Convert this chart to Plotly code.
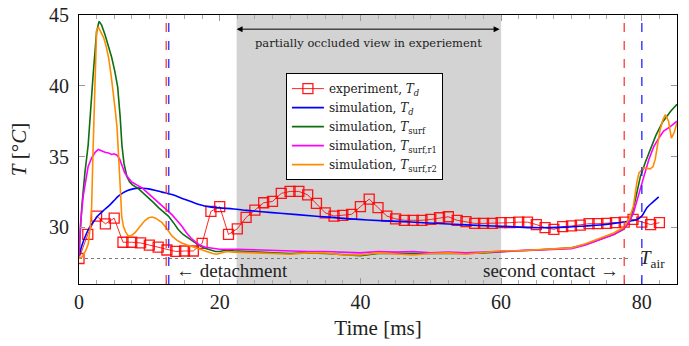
import plotly.graph_objects as go

# ---------------- data ----------------
exp_step = 1.25
exp_T = [27.8, 29.5, 30.8, 30.25, 30.65, 28.95, 28.95, 28.9, 28.75, 28.6,
         28.4, 28.3, 28.33, 28.33, 28.87, 31.13, 31.46, 29.5, 29.9, 30.7,
         31.22, 31.74, 31.83, 32.4, 32.54, 32.54, 32.3, 31.7, 31.03, 30.8,
         30.85, 30.92, 31.46, 32.0, 31.4, 30.8, 30.6, 30.5, 30.5, 30.5,
         30.56, 30.68, 30.75, 30.5, 30.4, 30.28, 30.28, 30.28, 30.33, 30.33,
         30.37, 30.37, 30.2, 29.98, 29.86, 30.05, 30.1, 30.16, 30.26, 30.26,
         30.28, 30.33, 30.37, 30.56, 30.37, 30.2, 30.33]
exp_t = [i * exp_step for i in range(len(exp_T))]

sim_d_t = [0, 0.4, 1.0, 1.56, 2.2, 2.75, 3.5, 4.2, 4.9, 5.6, 6.3, 7.0, 7.7, 8.4, 9.1,
           9.86, 10.8, 11.8, 12.7, 13.65, 14.4, 15.8, 17.2, 18.6, 20, 22, 23.85, 26,
           28.6, 31, 33.3, 35.5, 38.5, 41, 45.2, 49, 53.2, 57, 61.3, 64.6, 67, 69.4,
           72, 74.1, 76, 77.9, 79.3, 80.0, 80.75, 81.6, 82.4]
sim_d_T = [28.0, 28.7, 29.5, 30.05, 30.5, 30.85, 31.2, 31.5, 31.85, 32.2, 32.45,
           32.63, 32.72, 32.77, 32.76, 32.72, 32.62, 32.49, 32.38, 32.25, 32.1,
           31.85, 31.6, 31.45, 31.38, 31.3, 31.2, 31.1, 31.0, 30.9, 30.8, 30.72,
           30.6, 30.52, 30.42, 30.33, 30.22, 30.13, 30.05, 29.98, 29.98, 30.02,
           30.1, 30.17, 30.28, 30.42, 30.55, 30.8, 31.4, 31.8, 32.16]

surf_t = [0, 0.4, 0.85, 1.3, 2.0, 2.5, 2.85, 3.2, 3.7, 4.2, 4.65, 5.1, 5.5, 5.85,
          6.1, 6.4, 6.8, 7.2, 7.6, 8.4, 9.2, 9.9, 10.6, 11.3, 12.0, 12.7, 13.4,
          14.1, 14.8, 15.5, 16.2, 17.0, 17.8, 18.6, 19.4, 20.0, 21.0, 22.0, 23.5,
          25, 27.5, 30, 32.5, 35, 37.5, 40, 42.5, 45, 47.5, 50, 52.5, 55, 57.5,
          60, 62.5, 65, 67.5, 70, 72, 74, 76, 77.4, 78.4, 79.1, 79.8, 80.5, 81.2,
          82.0, 82.9, 84.1, 85]
surf_T = [28.0, 31.5, 33.9, 35.8, 40.7, 43.8, 44.55, 44.3, 43.6, 42.8, 42.0, 41.0,
          39.9, 37.8, 35.8, 34.5, 33.6, 33.2, 33.0, 32.75, 32.4, 32.1, 31.75,
          31.4, 31.1, 30.8, 30.35, 29.85, 29.5, 29.25, 29.0, 28.75, 28.55, 28.4,
          28.3, 28.3, 28.4, 28.35, 28.3, 28.25, 28.2, 28.15, 28.2, 28.15, 28.1,
          28.0, 28.15, 28.15, 28.1, 28.15, 28.1, 28.15, 28.2, 28.3, 28.35, 28.4,
          28.45, 28.55, 28.8, 29.15, 29.5, 29.85, 30.5, 32.0, 33.6, 34.6, 35.5,
          36.5, 37.4, 38.2, 38.7]

r1_t = [0, 0.2, 0.6, 1.0, 1.3, 1.8, 2.3, 2.75, 3.2, 3.7, 4.2, 4.65, 5.0, 5.4, 5.8,
        6.2, 6.5, 7.0, 7.5, 8.2, 8.9, 9.6, 10.3, 11.0, 11.8, 12.5, 13.2, 13.9,
        14.6, 15.3, 16.0, 16.6, 17.2, 18.0, 19.1, 20, 22.5, 25, 27.5, 30, 32.5,
        35, 37.5, 40, 42.5, 45, 47.5, 50, 52.5, 55, 57.5, 60, 62.5, 65, 67.5, 70,
        72, 74, 76, 77.4, 78.1, 78.8, 79.5, 80.3, 81.0, 81.7, 82.4, 83.1, 84.0, 85]
r1_T = [28.0, 30.2, 32.2, 33.6, 34.3, 34.9, 35.3, 35.5, 35.4, 35.3, 35.25, 35.15,
        35.2, 35.1, 34.8, 34.2, 33.85, 33.5, 33.2, 33.0, 32.8, 32.5, 32.2, 31.85,
        31.5, 31.2, 30.9, 30.5, 30.1, 29.6, 29.2, 28.95, 28.73, 28.6, 28.5, 28.45,
        28.45, 28.4, 28.35, 28.3, 28.3, 28.3, 28.25, 28.2, 28.3, 28.25, 28.3, 28.2,
        28.25, 28.2, 28.25, 28.3, 28.3, 28.35, 28.4, 28.5, 28.75, 29.1, 29.5,
        29.9, 30.3, 31.0, 32.3, 33.6, 34.8, 35.7, 36.3, 36.8, 37.1, 37.5]

r2_t = [0, 0.4, 0.9, 1.3, 1.6, 1.8, 2.0, 2.25, 2.5, 2.75, 3.1, 3.5, 3.85, 4.2, 4.55,
        4.9, 5.15, 5.4, 5.6, 5.75, 5.9, 6.07, 6.3, 6.6, 7.0, 7.4, 8.0, 8.5, 8.9,
        9.4, 9.9, 10.4, 10.9, 11.4, 11.8, 12.5, 13.2, 13.9, 14.6, 15.4, 16.3,
        17.2, 18.2, 19.0, 19.6, 20.3, 21.0, 22, 23.5, 25, 27.5, 30, 32.5, 35, 37.5,
        40, 42.5, 45, 47.5, 50, 52.5, 55, 57.5, 60, 62.5, 65, 67.5, 70, 72, 74, 76,
        77.4, 78.2, 78.8, 79.3, 79.6, 80.3, 81.2, 81.6, 81.9, 82.3, 82.6, 83.0,
        83.35, 83.8, 84.2, 84.6, 85]
r2_T = [27.8, 27.9, 28.3, 28.8, 30.0, 31.5, 35.5, 40.5, 43.9, 44.15, 43.8, 43.4,
        42.8, 42.0, 40.8, 39.5, 38.3, 37.1, 35.5, 34.0, 32.5, 30.8, 30.1, 29.7,
        29.4, 29.4, 29.65, 29.95, 30.2, 30.5, 30.68, 30.73, 30.65, 30.5, 30.33,
        29.9, 29.4, 29.1, 28.9, 28.75, 28.6, 28.45, 28.26, 28.15, 28.1, 28.2,
        28.3, 28.25, 28.25, 28.2, 28.15, 28.1, 28.2, 28.2, 28.05, 28.05, 28.2,
        28.15, 28.05, 28.15, 28.2, 28.1, 28.25, 28.35, 28.35, 28.4, 28.45, 28.55,
        28.85, 29.2, 29.6, 30.0, 30.6, 31.5, 33.2, 33.85, 34.2, 34.13, 34.3, 34.8,
        36.0, 36.9, 37.6, 37.96, 37.5, 36.3, 36.7, 37.4]

T_air = 27.8
occluded_span = [22.4, 60.0]
exp_marks = [12.4, 77.5]     # red dashed lines
sim_marks = [12.75, 80.0]    # blue dashed lines
x_ticks = [0, 20, 40, 60, 80]
y_ticks = [30, 35, 40, 45]

# ---------------- figure ----------------
BIG = "Liberation Serif"
SMALL = "DejaVu Serif"

fig = go.Figure()

fig.add_trace(go.Scatter(x=exp_t, y=exp_T, mode="lines+markers",
                         name="experiment, <i>T<sub>d</sub></i>",
                         line=dict(color="rgba(255,0,0,0.85)", width=1),
                         marker=dict(symbol="square-open", size=10, color="rgba(255,0,0,0.9)",
                                     line=dict(width=1.3))))
fig.add_trace(go.Scatter(x=sim_d_t, y=sim_d_T, mode="lines", line_shape="spline",
                         name="simulation, <i>T<sub>d</sub></i>",
                         line=dict(color="#0000ff", width=1.6)))
fig.add_trace(go.Scatter(x=surf_t, y=surf_T, mode="lines",
                         name="simulation, <i>T</i><sub>surf</sub>",
                         line=dict(color="#0f6e0f", width=1.6)))
fig.add_trace(go.Scatter(x=r1_t, y=r1_T, mode="lines",
                         name="simulation, <i>T</i><sub>surf,r1</sub>",
                         line=dict(color="#ff00ff", width=1.6)))
fig.add_trace(go.Scatter(x=r2_t, y=r2_T, mode="lines",
                         name="simulation, <i>T</i><sub>surf,r2</sub>",
                         line=dict(color="#ff8c00", width=1.6)))

shapes = [
    dict(type="rect", xref="x", yref="paper", x0=occluded_span[0], x1=occluded_span[1],
         y0=0, y1=1, fillcolor="#d3d3d3", line=dict(width=0), layer="below"),
    dict(type="line", xref="x", yref="y", x0=0, x1=78.5, y0=T_air, y1=T_air,
         line=dict(color="#777777", width=1, dash="dot"), layer="below"),
]
for xv in exp_marks:
    shapes.append(dict(type="line", xref="x", yref="paper", x0=xv, x1=xv, y0=0, y1=1,
                       line=dict(color="rgba(255,40,40,0.8)", width=1.5, dash="dash")))
for xv in sim_marks:
    shapes.append(dict(type="line", xref="x", yref="paper", x0=xv, x1=xv, y0=0, y1=1,
                       line=dict(color="rgba(30,30,255,0.85)", width=1.5, dash="dash")))
fig.update_layout(shapes=shapes)

annotations = [
    dict(x=occluded_span[0], y=44.0, ax=occluded_span[1], ay=44.0, xref="x", yref="y",
         axref="x", ayref="y", text="", showarrow=True, arrowhead=2, arrowsize=1.2,
         arrowwidth=1, arrowside="end+start", arrowcolor="black"),
    dict(x=sum(occluded_span) / 2, y=43.05, xref="x", yref="y",
         text="partially occluded view in experiement", showarrow=False,
         font=dict(family=SMALL, size=11.5, color="#222")),
    dict(x=13.5, y=26.97, xref="x", yref="y", xanchor="left", yanchor="middle",
         text="← detachment", showarrow=False, font=dict(family=BIG, size=19, color="#222")),
    dict(x=77.1, y=26.97, xref="x", yref="y", xanchor="right", yanchor="middle",
         text="second contact →", showarrow=False, font=dict(family=BIG, size=19, color="#222")),
    dict(x=79.5, y=T_air, xref="x", yref="y", xanchor="left", yanchor="middle",
         text="<i>T</i><sub>air</sub>", showarrow=False,
         font=dict(family=BIG, size=19, color="#222")),
]
fig.update_layout(annotations=annotations)

fig.update_layout(
    width=689, height=346,
    margin=dict(l=79, r=12, t=15, b=62),
    plot_bgcolor="white", paper_bgcolor="white",
    font=dict(family=BIG, size=19, color="#222"),
    showlegend=True,
    legend=dict(x=0.346, y=0.784, xanchor="left", yanchor="top",
                bgcolor="white", bordercolor="black", borderwidth=1,
                font=dict(family=SMALL, size=12, color="#222"),
                tracegroupgap=0, itemwidth=32),
)
fig.update_xaxes(range=[0, 85], tickvals=x_ticks, showgrid=False, zeroline=False,
                 automargin=False,
                 showline=True, linecolor="black", linewidth=1, mirror="allticks",
                 ticks="inside", ticklen=6, tickcolor="#999",
                 minor=dict(dtick=2.5, ticks="inside", ticklen=4, tickcolor="#aaa", showgrid=False),
                 tickfont=dict(family=BIG, size=20),
                 title=dict(text="Time [ms]", font=dict(family=BIG, size=21), standoff=8))
fig.update_yaxes(range=[26, 45], tickvals=y_ticks, showgrid=False, zeroline=False,
                 automargin=False,
                 showline=True, linecolor="black", linewidth=1, mirror="allticks",
                 ticks="inside", ticklen=6, tickcolor="#999", ticklabelstandoff=5,
                 tickfont=dict(family=BIG, size=20),
                 title=dict(text="<i>T</i> [°<i>C</i>]", font=dict(family=BIG, size=21), standoff=16))

fig.write_html("out.html", config={"displayModeBar": False},
               post_script="document.body.style.margin='0px';document.body.style.padding='0px';")
